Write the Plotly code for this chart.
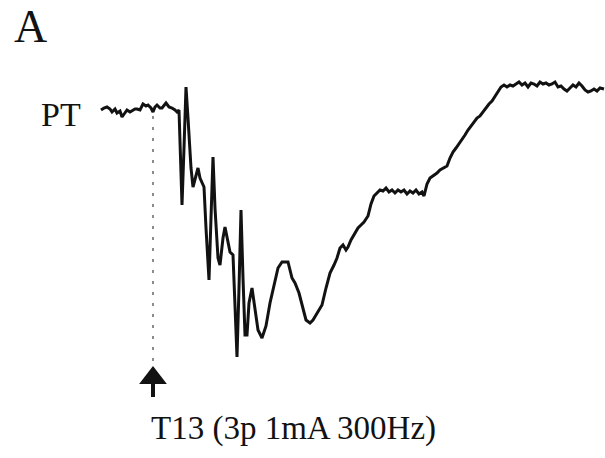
import plotly.graph_objects as go

# Recording: time (arbitrary units) and membrane response (arbitrary units, up = positive)
t = [101, 104, 107, 110, 112, 115, 117, 120, 122, 125, 127, 130, 132, 135, 137, 140, 143, 146,
     148, 151, 153, 155, 157, 160, 162, 164, 166, 169, 172, 175, 177, 179,
     182, 184, 186, 188, 191, 193, 196, 198, 200, 202, 204, 206, 209, 211, 213, 215,
     218, 220, 223, 225, 228, 230, 233, 235, 237, 239, 241, 243, 245, 247, 249, 252,
     255, 258, 262, 266, 270, 274, 278, 282, 285, 288, 292, 295, 299, 303, 306, 310,
     313, 316, 319, 322, 326, 330, 334, 337, 340, 343, 346, 348, 351, 355, 358, 361,
     364, 368, 371, 374, 377, 380, 383, 386, 389, 392, 395, 398, 401, 404, 407, 410,
     413, 416, 419, 422, 424, 427, 430, 433, 437, 440, 443, 447, 450, 453, 456, 459,
     462, 465, 468, 471, 474, 477, 480, 483, 486, 489, 492, 495, 498, 501, 504, 507,
     510, 513, 516, 519, 522, 525, 528, 531, 534, 537, 540, 543, 546, 549, 552, 555,
     558, 561, 564, 567, 570, 573, 576, 579, 582, 585, 588, 591, 594, 597, 600, 604]
v = [-2, 0, 1, -1, -4, -1, -5, -3, -9, -5, -2, -4, -3, -1, -1, -2, 4, 2, 3, 0, -4, 1,
     3, 0, 0, 2, 5, 1, 0, -2, -4, -2,
     -97, -40, 21, -10, -60, -79, -66, -60, -70, -75, -79, -120, -172, -110, -49, -100,
     -150, -157, -130, -119, -135, -144, -147, -200, -249, -180, -102, -170, -227, -227, -195, -180,
     -200, -222, -230, -218, -195, -178, -160, -154, -154, -154, -170, -175, -185, -202, -212, -215,
     -212, -207, -202, -197, -180, -165, -157, -150, -140, -137, -142, -139, -132, -125, -120, -117,
     -114, -108, -96, -88, -85, -82, -83, -80, -84, -82, -85, -82, -84, -82, -86, -83,
     -85, -82, -86, -84, -88, -76, -70, -68, -65, -62, -60, -58, -50, -44, -40, -36,
     -32, -27, -22, -18, -14, -10, -8, -4, 1, 4, 7, 12, 17, 21, 23, 21,
     23, 22, 24, 26, 23, 25, 21, 25, 24, 22, 26, 24, 25, 23, 24, 26,
     21, 22, 19, 17, 20, 23, 21, 25, 22, 18, 16, 17, 19, 17, 20, 19]

stim_time = 153
trace_label = "PT"
stim_label = "T13 (3p 1mA 300Hz)"
panel_label = "A"

fig = go.Figure()

# Stimulus onset marker: dotted guide
fig.add_trace(go.Scatter(
    x=[stim_time, stim_time], y=[-8, -258], mode="lines",
    line=dict(color="#8c8c8c", width=2, dash="3px,8px"), hoverinfo="skip", showlegend=False))

# Response trace
fig.add_trace(go.Scatter(
    x=t, y=v, mode="lines",
    line=dict(color="#121212", width=3, shape="linear"), showlegend=False))

# Arrow stem and head at stimulus onset
fig.add_trace(go.Scatter(
    x=[stim_time, stim_time], y=[-276, -289], mode="lines",
    line=dict(color="#121212", width=4), showlegend=False, hoverinfo="skip"))
fig.add_trace(go.Scatter(
    x=[stim_time], y=[-270], mode="markers",
    marker=dict(symbol="triangle-up", size=24, color="#121212"),
    showlegend=False, hoverinfo="skip"))

font = "Liberation Serif, Times New Roman, serif"
fig.add_annotation(x=t[0], y=-6, xshift=-18, text=trace_label, showarrow=False,
                   xanchor="right", yanchor="middle",
                   font=dict(family=font, size=34, color="#121212"))
fig.add_annotation(x=stim_time, y=-320, xshift=-4, text=stim_label, showarrow=False,
                   xanchor="left", yanchor="middle",
                   font=dict(family=font, size=33, color="#121212"))
fig.add_annotation(xref="paper", yref="paper", x=0.02, y=0.942, text=panel_label,
                   showarrow=False, xanchor="left", yanchor="middle",
                   font=dict(family=font, size=46, color="#121212"))

fig.update_layout(
    width=605, height=458, margin=dict(l=0, r=0, t=0, b=0),
    paper_bgcolor="white", plot_bgcolor="white",
    xaxis=dict(range=[0, 605], visible=False),
    yaxis=dict(range=[-350, 108], visible=False),
)

fig.write_html("out.html")
